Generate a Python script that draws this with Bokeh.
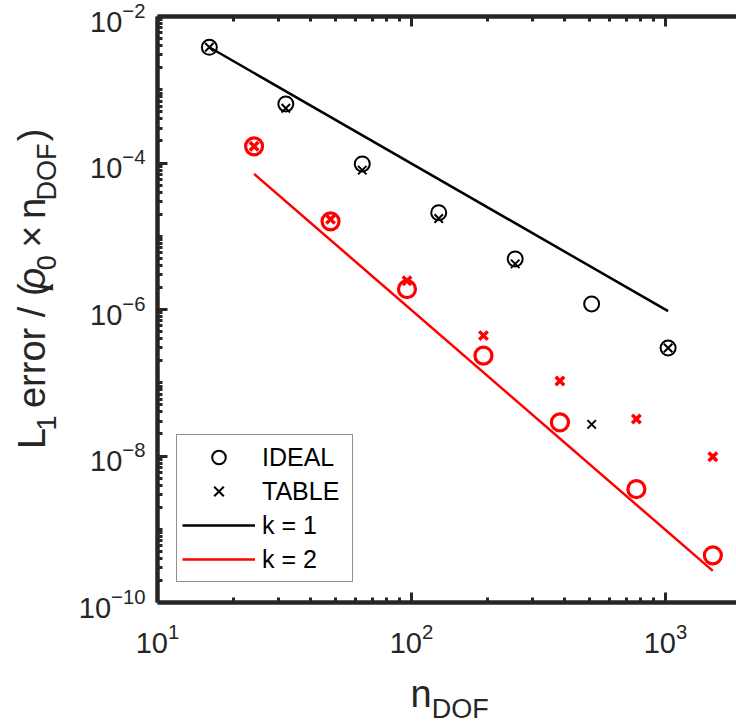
import numpy as np
from bokeh.plotting import figure
from bokeh.models import Range1d, LogAxis, FixedTicker, Legend, LegendItem
from bokeh.layouts import row, column
from bokeh.core.properties import value
from bokeh.embed import file_html
from bokeh.resources import INLINE

# ---------------- data ----------------
n_black = [16, 32, 64, 128, 256, 512, 1024]
ideal_black = [3.8e-3, 6.4e-4, 9.7e-5, 2.1e-5, 4.9e-6, 1.19e-6, 2.98e-7]
table_black = [3.8e-3, 5.6e-4, 8.0e-5, 1.75e-5, 4.2e-6, 2.7e-8, 2.98e-7]

n_red = [24, 48, 96, 192, 384, 768, 1536]
ideal_red = [1.69e-4, 1.6e-5, 1.9e-6, 2.34e-7, 2.87e-8, 3.53e-9, 4.4e-10]
table_red = [1.69e-4, 1.7e-5, 2.47e-6, 4.4e-7, 1.06e-7, 3.19e-8, 9.75e-9]

k1_n = [16, 1024]
k1_err = [3.8e-3, 9.5e-7]
k2_n = [24, 1536]
k2_err = [7.1e-5, 2.7e-10]

x_major = [10, 100, 1000]
y_major = [1e-10, 1e-8, 1e-6, 1e-4, 1e-2]

legend_labels = ["IDEAL", "TABLE", "k = 1", "k = 2"]

# ---------------- layout constants ----------------
W, H = 736, 728
LW = 72            # left strip (y title)
MH = 668           # main figure height
BH = H - MH        # bottom strip (x title)
FRAME_L, FRAME_T, FRAME_B = 157, 16, 602
DECADE_PX = 254.0
x_end = 10 ** (1 + (W - FRAME_L) / DECADE_PX)

AXC = "#262626"
FONT = "Liberation Sans"
RED = "#FF0000"

p = figure(width=W - LW, height=MH, x_axis_type="log", y_axis_type="log",
           x_range=Range1d(10, x_end), y_range=Range1d(1e-10, 1e-2),
           output_backend="svg", toolbar_location=None,
           min_border_left=FRAME_L - LW, min_border_right=0,
           min_border_top=FRAME_T, min_border_bottom=MH - FRAME_B)
p.outline_line_color = None
p.grid.visible = False
p.background_fill_color = "white"
p.border_fill_color = "white"

x_minor = [k * 10 ** e for e in range(1, 4) for k in range(2, 10)]
y_minor = [k * 10.0 ** e for e in range(-10, -2) for k in range(1, 10)
           if not (k == 1 and e % 2 == 0)]


def style_axis(ax, standoff):
    ax.axis_line_color = AXC
    ax.axis_line_width = 4.5
    ax.major_tick_line_color = AXC
    ax.minor_tick_line_color = AXC
    ax.major_tick_line_width = 3
    ax.minor_tick_line_width = 3
    ax.major_tick_in = 10
    ax.major_tick_out = 0
    ax.minor_tick_in = 5
    ax.minor_tick_out = 0
    ax.major_label_text_font = FONT
    ax.major_label_text_color = AXC
    ax.major_label_standoff = standoff
    ax.major_label_text_font_size = "29px"


p.xaxis.ticker = FixedTicker(ticks=x_major, minor_ticks=x_minor)
p.yaxis.ticker = FixedTicker(ticks=y_major, minor_ticks=y_minor)
style_axis(p.xaxis[0], 20)
style_axis(p.yaxis[0], 12)

top_axis = LogAxis(ticker=FixedTicker(ticks=x_major, minor_ticks=x_minor))
style_axis(top_axis, 0)
top_axis.major_label_text_font_size = "2px"
top_axis.major_label_text_alpha = 0.0
p.add_layout(top_axis, "above")

# ---------------- glyphs ----------------
r_k1 = p.line(k1_n, k1_err, line_color="black", line_width=2.5)
r_k2 = p.line(k2_n, k2_err, line_color=RED, line_width=2.5)

r_ib = p.scatter(n_black, ideal_black, marker="circle", size=15,
                 fill_color=None, line_color="black", line_width=2)
r_tb = p.scatter(n_black, table_black, marker="x", size=12,
                 line_color="black", line_width=2)
p.scatter(n_red, ideal_red, marker="circle", size=17,
          fill_color=None, line_color=RED, line_width=3.2)
p.scatter(n_red, table_red, marker="x", size=12,
          line_color=RED, line_width=3.5)

legend = Legend(items=[LegendItem(label=legend_labels[0], renderers=[r_ib]),
                       LegendItem(label=legend_labels[1], renderers=[r_tb]),
                       LegendItem(label=legend_labels[2], renderers=[r_k1]),
                       LegendItem(label=legend_labels[3], renderers=[r_k2])],
                location=(19, 20))
legend.border_line_color = AXC
legend.border_line_width = 1.5
legend.background_fill_color = "white"
legend.background_fill_alpha = 1.0
legend.label_text_font = FONT
legend.label_text_font_size = "25px"
legend.label_text_color = "black"
legend.glyph_width = 73
legend.glyph_height = 34
legend.label_height = 34
legend.label_width = 85
legend.label_standoff = 7
legend.spacing = 0
legend.padding = 5
legend.margin = 0
p.add_layout(legend)


# ---------------- title strips (text with subscripts) ----------------
def strip(w, h):
    s = figure(width=w, height=h, x_range=Range1d(0, w), y_range=Range1d(0, h),
               output_backend="svg", toolbar_location=None,
               x_axis_location=None, y_axis_location=None,
               min_border=0)
    s.outline_line_color = None
    s.grid.visible = False
    s.background_fill_color = "white"
    s.border_fill_color = "white"
    return s


AW = {" ": 278, "L": 556, "e": 556, "r": 333, "o": 556, "/": 278, "(": 333,
      ")": 333, "×": 584, "n": 556, "ρ": 580, "0": 556, "1": 556,
      "D": 722, "O": 778, "F": 611}
F_MAIN, F_SUB, SUB_DROP = 38, 27, 15


def adv(s, size):
    return sum(AW[c] for c in s) * size / 1000.0


def place(fig, pieces, start, base, vertical):
    pos = start
    for txt, kind, style in pieces:
        size = F_MAIN if kind == "main" else F_SUB
        lead = len(txt) - len(txt.lstrip(" "))
        shown = txt.strip(" ")
        off = pos + adv(" " * lead, size)
        drop = SUB_DROP if kind == "sub" else 0
        if vertical:
            x, y, ang = base + drop, off, np.pi / 2
        else:
            x, y, ang = off, base - drop, 0.0
        fig.text(x=[x], y=[y], text=[shown], angle=ang,
                 text_font=value(FONT), text_font_size=value(f"{size}px"),
                 text_font_style=style, text_color=AXC,
                 text_align="left", text_baseline="alphabetic")
        pos += adv(txt, size)


y_pieces = [("L", "main", "normal"), ("1", "sub", "normal"),
            (" error / ( ", "main", "normal"), ("ρ", "main", "italic"),
            ("0", "sub", "normal"), (" × ", "main", "normal"),
            ("n", "main", "normal"), ("DOF", "sub", "normal"),
            (" )", "main", "normal")]
x_pieces = [("n", "main", "normal"), ("DOF", "sub", "normal")]

left = strip(LW, MH)
# baseline near canvas x=31, text starts at canvas y=493
place(left, y_pieces, start=MH - 493, base=31, vertical=True)

bottom = strip(W, BH)
# starts at canvas x=410, baseline near canvas y=693
place(bottom, x_pieces, start=410, base=H - 693, vertical=False)

layout = column(row(left, p, spacing=0), bottom, spacing=0)
open("out.html", "w").write(file_html(layout, INLINE))
